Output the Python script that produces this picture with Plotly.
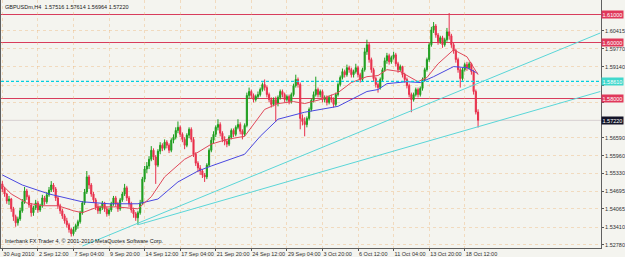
import plotly.graph_objects as go

# ---------------- data ----------------
closes = [1.5477,1.5459,1.5434,1.5441,1.5406,1.5378,1.5356,1.5370,1.5399,1.5431,
          1.5470,1.5449,1.5420,1.5392,1.5410,1.5427,1.5402,1.5417,1.5445,1.5431,
          1.5456,1.5473,1.5491,1.5477,1.5445,1.5417,1.5399,1.5381,1.5363,1.5349,
          1.5332,1.5317,1.5332,1.5346,1.5360,1.5392,1.5427,1.5466,1.5520,1.5491,
          1.5459,1.5438,1.5413,1.5399,1.5410,1.5427,1.5406,1.5388,1.5402,1.5424,
          1.5445,1.5424,1.5406,1.5438,1.5459,1.5481,1.5445,1.5424,1.5402,1.5388,
          1.5374,1.5392,1.5427,1.5512,1.5548,1.5559,1.5583,1.5615,1.5591,1.5562,
          1.5612,1.5633,1.5622,1.5644,1.5633,1.5615,1.5651,1.5662,1.5686,1.5697,
          1.5672,1.5654,1.5633,1.5669,1.5690,1.5654,1.5601,1.5569,1.5552,1.5541,
          1.5527,1.5520,1.5562,1.5615,1.5651,1.5672,1.5697,1.5707,1.5676,1.5654,
          1.5647,1.5637,1.5662,1.5686,1.5672,1.5697,1.5707,1.5683,1.5672,1.5704,
          1.5811,1.5825,1.5811,1.5796,1.5807,1.5814,1.5832,1.5850,1.5839,1.5814,
          1.5796,1.5779,1.5796,1.5782,1.5804,1.5825,1.5814,1.5796,1.5807,1.5789,
          1.5814,1.5846,1.5868,1.5850,1.5729,1.5718,1.5707,1.5729,1.5761,1.5793,
          1.5814,1.5832,1.5814,1.5825,1.5796,1.5804,1.5786,1.5804,1.5796,1.5779,
          1.5814,1.5850,1.5875,1.5896,1.5885,1.5910,1.5903,1.5885,1.5896,1.5910,
          1.5885,1.5868,1.5903,1.5967,1.5992,1.5939,1.5903,1.5871,1.5850,1.5839,
          1.5868,1.5903,1.5935,1.5953,1.5931,1.5946,1.5956,1.5924,1.5903,1.5914,
          1.5885,1.5868,1.5846,1.5814,1.5796,1.5814,1.5832,1.5814,1.5836,1.5868,
          1.5903,1.5939,1.5992,1.6045,1.6059,1.6027,1.6003,1.6017,1.5992,1.6010,
          1.6038,1.6024,1.5992,1.5971,1.5939,1.5903,1.5871,1.5903,1.5921,1.5910,
          1.5924,1.5896,1.5825,1.57516,1.57220]
highs = [1.5505,1.5484,1.5463,1.5452,1.5445,1.5413,1.5385,1.5378,1.5410,1.5441,
         1.5484,1.5477,1.5456,1.5427,1.5417,1.5438,1.5434,1.5424,1.5456,1.5452,
         1.5466,1.5484,1.5505,1.5498,1.5484,1.5452,1.5424,1.5406,1.5388,1.5374,
         1.5356,1.5339,1.5342,1.5353,1.5367,1.5399,1.5434,1.5477,1.5541,1.5527,
         1.5498,1.5466,1.5445,1.5424,1.5417,1.5434,1.5431,1.5413,1.5410,1.5431,
         1.5452,1.5452,1.5431,1.5445,1.5466,1.5495,1.5488,1.5452,1.5431,1.5410,
         1.5395,1.5399,1.5438,1.5520,1.5559,1.5573,1.5594,1.5630,1.5622,1.5598,
         1.5619,1.5644,1.5640,1.5654,1.5651,1.5640,1.5658,1.5672,1.5697,1.5718,
         1.5704,1.5679,1.5662,1.5676,1.5697,1.5697,1.5662,1.5608,1.5576,1.5562,
         1.5548,1.5534,1.5569,1.5622,1.5662,1.5683,1.5704,1.5726,1.5715,1.5683,
         1.5665,1.5654,1.5669,1.5693,1.5693,1.5704,1.5726,1.5715,1.5690,1.5711,
         1.5821,1.5839,1.5832,1.5818,1.5814,1.5825,1.5839,1.5857,1.5868,1.5846,
         1.5821,1.5804,1.5804,1.5807,1.5811,1.5832,1.5832,1.5821,1.5814,1.5814,
         1.5821,1.5853,1.5885,1.5875,1.5857,1.5743,1.5733,1.5736,1.5768,1.5800,
         1.5825,1.5878,1.5839,1.5832,1.5832,1.5811,1.5811,1.5811,1.5814,1.5804,
         1.5821,1.5857,1.5882,1.5907,1.5903,1.5921,1.5917,1.5910,1.5903,1.5924,
         1.5917,1.5892,1.5910,1.5981,1.6010,1.5999,1.5946,1.5910,1.5878,1.5857,
         1.5875,1.5910,1.5946,1.5963,1.5960,1.5953,1.5967,1.5963,1.5931,1.5921,
         1.5917,1.5892,1.5875,1.5853,1.5821,1.5821,1.5839,1.5839,1.5843,1.5875,
         1.5910,1.5946,1.5999,1.6056,1.6073,1.6066,1.6034,1.6024,1.6024,1.6017,
         1.6052,1.6105,1.6031,1.5999,1.5978,1.5946,1.5910,1.5910,1.5928,1.5931,
         1.5931,1.5928,1.5903,1.5832,1.57614]
lows = [1.5466,1.5449,1.5424,1.5420,1.5395,1.5363,1.5342,1.5346,1.5363,1.5392,
        1.5424,1.5438,1.5410,1.5378,1.5381,1.5402,1.5392,1.5395,1.5410,1.5420,
        1.5424,1.5449,1.5466,1.5466,1.5434,1.5406,1.5388,1.5370,1.5353,1.5339,
        1.5321,1.5307,1.5310,1.5324,1.5335,1.5353,1.5385,1.5420,1.5459,1.5477,
        1.5449,1.5427,1.5402,1.5388,1.5388,1.5402,1.5395,1.5378,1.5381,1.5395,
        1.5417,1.5413,1.5395,1.5399,1.5431,1.5452,1.5434,1.5413,1.5392,1.5374,
        1.5363,1.5349,1.5385,1.5420,1.5502,1.5534,1.5548,1.5576,1.5580,1.5495,
        1.5555,1.5601,1.5612,1.5615,1.5622,1.5605,1.5608,1.5640,1.5654,1.5676,
        1.5662,1.5644,1.5619,1.5626,1.5658,1.5644,1.5591,1.5559,1.5537,1.5527,
        1.5516,1.5502,1.5512,1.5555,1.5608,1.5640,1.5662,1.5686,1.5665,1.5644,
        1.5633,1.5626,1.5630,1.5654,1.5662,1.5665,1.5690,1.5672,1.5654,1.5665,
        1.5697,1.5800,1.5800,1.5786,1.5789,1.5800,1.5807,1.5825,1.5828,1.5804,
        1.5786,1.5768,1.5772,1.5718,1.5772,1.5796,1.5804,1.5786,1.5789,1.5779,
        1.5782,1.5807,1.5839,1.5839,1.5690,1.5704,1.5665,1.5697,1.5722,1.5754,
        1.5786,1.5807,1.5804,1.5804,1.5786,1.5786,1.5775,1.5779,1.5786,1.5768,
        1.5772,1.5807,1.5843,1.5868,1.5875,1.5878,1.5892,1.5875,1.5875,1.5889,
        1.5875,1.5857,1.5860,1.5896,1.5956,1.5928,1.5892,1.5860,1.5839,1.5821,
        1.5832,1.5860,1.5896,1.5924,1.5921,1.5924,1.5939,1.5914,1.5892,1.5896,
        1.5875,1.5857,1.5836,1.5804,1.5751,1.5789,1.5807,1.5804,1.5807,1.5828,
        1.5860,1.5896,1.5931,1.5985,1.6034,1.6017,1.5992,1.5995,1.5981,1.5985,
        1.6003,1.6010,1.5981,1.5960,1.5928,1.5892,1.5839,1.5864,1.5896,1.5899,
        1.5903,1.5885,1.5814,1.5743,1.56964]
first_open = 1.5495
opens = [first_open] + closes[:-1]          # H4 bars open at the prior close
bars = list(range(len(closes)))

ma_red_bars = [0,4,11,18,25,32,36,43,51,61,67,73,82,88,94,101,109,114,118,124,
               131,136,143,151,157,164,169,173,179,187,191,196,203,209,213,214]
ma_red_vals = [1.5491,1.5459,1.5427,1.5417,1.5417,1.5399,1.5392,1.5413,1.5413,1.5406,
               1.5449,1.5520,1.5583,1.5608,1.5637,1.5654,1.5665,1.5718,1.5761,1.5782,
               1.5789,1.5782,1.5796,1.5821,1.5857,1.5878,1.5882,1.5903,1.5896,1.5860,
               1.5875,1.5924,1.5974,1.5949,1.5896,1.5885]
ma_blue_bars = [0,9,21,36,48,61,70,79,88,94,109,116,124,136,151,164,169,173,182,188,
                194,203,209,213,214]
ma_blue_vals = [1.5527,1.5491,1.5459,1.5431,1.5424,1.5424,1.5441,1.5502,1.5541,1.5559,
                1.5601,1.5665,1.5726,1.5751,1.5772,1.5825,1.5832,1.5853,1.5860,1.5857,
                1.5878,1.5914,1.5910,1.5892,1.5889]

red_levels = [1.6100, 1.6000, 1.5800]
cyan_level = 1.58610
bid_level = 1.57220
trend_upper = ([36, 269], [1.5273, 1.6034])
trend_lower = ([61, 269], [1.5349, 1.5825])

x_tick_bars = [0,16,32,48,64,80,96,112,128,144,160,176,192,208]
x_tick_labels = ["30 Aug 2010","2 Sep 12:00","7 Sep 04:00","9 Sep 20:00","14 Sep 12:00",
                 "17 Sep 04:00","21 Sep 20:00","24 Sep 12:00","29 Sep 04:00","3 Oct 20:00",
                 "6 Oct 12:00","11 Oct 04:00","13 Oct 20:00","18 Oct 12:00"]
y_tick_vals = [1.52780,1.53410,1.54065,1.54695,1.55330,1.55960,1.56590,
               1.57850,1.58480,1.59140,1.59770,1.60415]
# scale labels that sit under the coloured price boxes are hidden there
y_tick_hidden = [1.57850, 1.58480]

header = "GBPUSDm,H4  1.57516 1.57614 1.56964 1.57220"
footer = "Interbank FX Trader 4, \u00a9 2001-2010 MetaQuotes Software Corp."

# ---------------- styles ----------------
FONT = "Liberation Sans"
FS = 5.5
BG = "#f4f4ef"
GREEN = "#1e9e1e"
RED = "#e8304c"
LINE_RED = "#d83c5c"
CYAN = "#5ad6d8"
GRID = "rgba(235,170,100,0.35)"

fig = go.Figure()

fig.add_trace(go.Scatter(x=ma_blue_bars, y=ma_blue_vals, mode="lines",
                         line=dict(color="#4a48e0", width=1), hoverinfo="skip"))
fig.add_trace(go.Scatter(x=ma_red_bars, y=ma_red_vals, mode="lines",
                         line=dict(color="#e0485a", width=1), hoverinfo="skip"))

fig.add_trace(go.Candlestick(
    x=bars, open=opens, high=highs, low=lows, close=closes,
    increasing=dict(line=dict(color=GREEN, width=1), fillcolor=GREEN),
    decreasing=dict(line=dict(color=RED, width=1), fillcolor=RED),
    whiskerwidth=0, hoverinfo="skip"))

for lv in red_levels:
    fig.add_hline(y=lv, line=dict(color=LINE_RED, width=1), layer="below")
fig.add_hline(y=cyan_level, line=dict(color="#00d0e0", width=1.2, dash="3px,2px"),
              layer="above")
fig.add_hline(y=bid_level, line=dict(color="#d8d0d0", width=1), layer="below")

for tx, ty in (trend_upper, trend_lower):
    fig.add_shape(type="line", x0=tx[0], x1=tx[1], y0=ty[0], y1=ty[1],
                  xref="x", yref="y", line=dict(color=CYAN, width=1), layer="above")

# price boxes on the scale
boxes = [(1.61000, "#e0385a", "1.61000"), (1.60000, "#e0385a", "1.60000"),
         (1.58000, "#e0385a", "1.58000"), (1.58610, "#40d8cc", "1.58610"),
         (1.57220, "#141428", "1.57220")]
for val, col, txt in boxes:
    fig.add_annotation(x=1, xref="paper", xanchor="left", y=val, yref="y",
                       text=txt, showarrow=False, bgcolor=col, borderpad=0.5,
                       font=dict(family=FONT, size=FS, color="white"), xshift=0)

fig.add_annotation(x=0, xref="paper", xanchor="left", xshift=2, y=1, yref="paper",
                   yanchor="top", yshift=-2, text=header, showarrow=False,
                   font=dict(family=FONT, size=FS, color="#202020"))
fig.add_annotation(x=0, xref="paper", xanchor="left", xshift=2, y=0, yref="paper",
                   yanchor="bottom", yshift=2, text=footer, showarrow=False,
                   font=dict(family=FONT, size=FS, color="#202020"))

fig.update_layout(
    width=625, height=257,
    margin=dict(l=1, r=21, t=0, b=9),
    paper_bgcolor=BG, plot_bgcolor=BG,
    showlegend=False,
    xaxis=dict(range=[-0.6, 269.3], tickvals=x_tick_bars, ticktext=x_tick_labels,
               tickangle=0, ticks="outside", ticklen=2, tickcolor="#555", tickwidth=1,
               ticklabelposition="outside right",
               tickfont=dict(family=FONT, size=FS, color="#303030"),
               showline=True, linecolor="#606060", linewidth=1,
               showgrid=True, gridcolor=GRID, griddash="dot", gridwidth=1,
               zeroline=False, rangeslider=dict(visible=False), fixedrange=True),
    yaxis=dict(range=[1.526607, 1.615179], side="right", tickvals=y_tick_vals,
               ticktext=["" if v in y_tick_hidden else f"{v:.5f}" for v in y_tick_vals],
               ticks="outside", ticklen=2, tickcolor="#555",
               tickfont=dict(family=FONT, size=FS, color="#303030"),
               showline=True, linecolor="#606060", linewidth=1, mirror=True,
               showgrid=True, gridcolor=GRID, griddash="dot", gridwidth=1,
               zeroline=False, fixedrange=True),
)

fig.write_html("out.html")
